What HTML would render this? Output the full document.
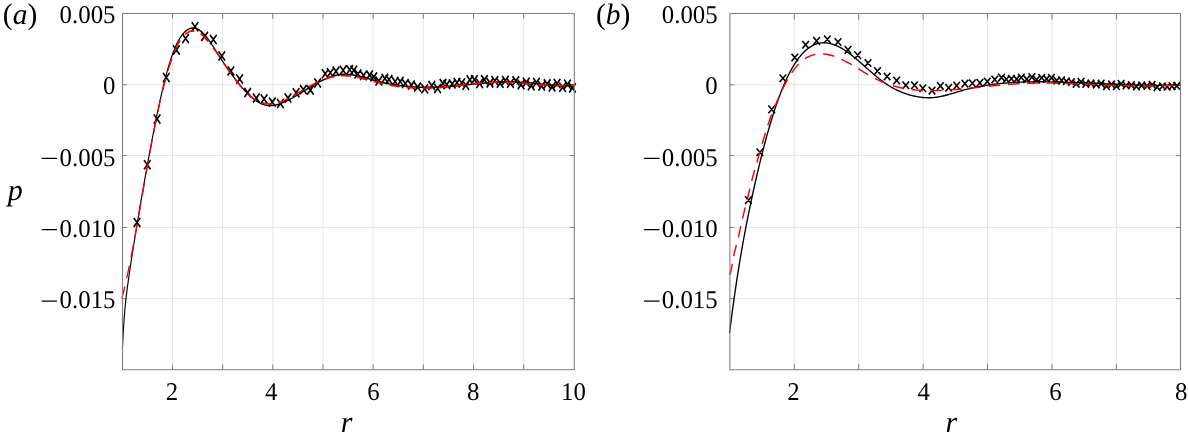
<!DOCTYPE html>
<html><head><meta charset="utf-8"><style>
html,body{margin:0;padding:0;background:#fff;width:1188px;height:441px;overflow:hidden}
svg{display:block}
text{font-family:"Liberation Serif",serif;text-rendering:geometricPrecision;font-size:25.5px;fill:#000}
</style></head><body>
<svg width="1188" height="441" viewBox="0 0 1188 441">
<rect width="1188" height="441" fill="#fff"/>
<defs><clipPath id="ca"><rect x="120.53" y="13.56" width="453.77" height="356.19"/></clipPath>
<clipPath id="cb"><rect x="727.90" y="13.56" width="452.60" height="356.19"/></clipPath></defs>
<path d="M172.50 13.56V369.75M222.67 13.56V369.75M272.84 13.56V369.75M323.01 13.56V369.75M373.18 13.56V369.75M423.35 13.56V369.75M473.52 13.56V369.75M523.69 13.56V369.75M122.53 84.75H574.30M122.53 155.52H574.30M122.53 227.43H574.30M122.53 298.66H574.30" stroke="#e6e6e6" stroke-width="1" fill="none"/>
<path d="M172.50 369.75V364.45M172.50 13.56V18.86M222.67 369.75V364.45M222.67 13.56V18.86M272.84 369.75V364.45M272.84 13.56V18.86M323.01 369.75V364.45M323.01 13.56V18.86M373.18 369.75V364.45M373.18 13.56V18.86M423.35 369.75V364.45M423.35 13.56V18.86M473.52 369.75V364.45M473.52 13.56V18.86M523.69 369.75V364.45M523.69 13.56V18.86M122.53 84.75H127.03M574.30 84.75H569.80M122.53 155.52H127.03M574.30 155.52H569.80M122.53 227.43H127.03M574.30 227.43H569.80M122.53 298.66H127.03M574.30 298.66H569.80" stroke="#808080" stroke-width="1" fill="none"/>
<g transform="matrix(1 0 0 1.3000 0 -25.4250)">
<path d="M133.70 187.10L140.30 194.17M133.70 194.17L140.30 187.10M144.00 142.71L150.60 149.79M144.00 149.79L150.60 142.71M153.80 107.56L160.40 114.63M153.80 114.63L160.40 107.56M163.00 75.63L169.60 82.71M163.00 82.71L169.60 75.63M173.10 54.48L179.70 61.56M173.10 61.56L179.70 54.48M182.30 45.63L188.90 52.71M182.30 52.71L188.90 45.63M191.70 36.63L198.30 43.71M191.70 43.71L198.30 36.63M201.30 44.02L207.90 51.10M201.30 51.10L207.90 44.02M210.00 46.40L216.60 53.48M210.00 53.48L216.60 46.40M218.50 59.10L225.10 66.17M218.50 66.17L225.10 59.10M227.60 70.56L234.20 77.63M227.60 77.63L234.20 70.56M236.30 76.79L242.90 83.87M236.30 83.87L242.90 76.79M244.40 87.25L251.00 94.33M244.40 94.33L251.00 87.25M253.00 91.48L259.60 98.56M253.00 98.56L259.60 91.48M260.80 92.17L267.40 99.25M260.80 99.25L267.40 92.17M269.00 94.56L275.60 101.63M269.00 101.63L275.60 94.56M277.10 95.63L283.70 102.71M277.10 102.71L283.70 95.63M284.70 91.48L291.30 98.56M284.70 98.56L291.30 91.48M292.80 87.33L299.40 94.40M292.80 94.40L299.40 87.33M300.00 84.94L306.60 92.02M300.00 92.02L306.60 84.94M307.10 85.33L313.70 92.40M307.10 92.40L313.70 85.33M314.30 79.87L320.90 86.94M314.30 86.94L320.90 79.87M321.90 72.79L328.50 79.87M321.90 79.87L328.50 72.79M327.00 72.02L333.60 79.10M327.00 79.10L333.60 72.02M332.70 70.87L339.30 77.94M332.70 77.94L339.30 70.87M339.80 70.10L346.40 77.17M339.80 77.17L346.40 70.10M346.40 69.71L353.00 76.79M346.40 76.79L353.00 69.71M350.50 70.10L357.10 77.17M350.50 77.17L357.10 70.10M354.60 72.87L361.20 79.94M354.60 79.94L361.20 72.87M360.20 74.02L366.80 81.10M360.20 81.10L366.80 74.02M366.30 73.63L372.90 80.71M366.30 80.71L372.90 73.63M370.40 75.17L377.00 82.25M370.40 82.25L377.00 75.17M375.50 78.33L382.10 85.40M375.50 85.40L382.10 78.33M381.60 76.40L388.20 83.48M381.60 83.48L388.20 76.40M385.70 77.17L392.30 84.25M385.70 84.25L392.30 77.17M391.80 78.71L398.40 85.79M391.80 85.79L398.40 78.71M396.90 78.71L403.50 85.79M396.90 85.79L403.50 78.71M402.00 80.33L408.60 87.40M402.00 87.40L408.60 80.33M408.10 81.48L414.70 88.56M408.10 88.56L414.70 81.48M414.30 83.02L420.90 90.10M414.30 90.10L420.90 83.02M421.40 84.25L428.00 91.33M421.40 91.33L428.00 84.25M428.50 81.87L435.10 88.94M428.50 88.94L435.10 81.87M434.30 84.10L440.90 91.17M434.30 91.17L440.90 84.10M439.70 80.33L446.30 87.40M439.70 87.40L446.30 80.33M443.50 81.10L450.10 88.17M443.50 88.17L450.10 81.10M448.90 80.56L455.50 87.63M448.90 87.63L455.50 80.56M453.70 79.56L460.30 86.63M453.70 86.63L460.30 79.56M458.40 79.79L465.00 86.87M458.40 86.87L465.00 79.79M462.50 81.63L469.10 88.71M462.50 88.71L469.10 81.63M466.60 77.48L473.20 84.56M466.60 84.56L473.20 77.48M471.10 77.29L477.70 84.37M471.10 84.37L477.70 77.29M476.30 80.27L482.90 87.34M476.30 87.34L482.90 80.27M481.12 77.31L487.72 84.39M481.12 84.39L487.72 77.31M486.66 79.78L493.26 86.85M486.66 86.85L493.26 79.78M491.57 78.07L498.17 85.15M491.57 85.15L498.17 78.07M496.87 80.10L503.47 87.18M496.87 87.18L503.47 80.10M502.08 77.87L508.68 84.95M502.08 84.95L508.68 77.87M507.10 80.08L513.70 87.16M507.10 87.16L513.70 80.08M512.53 78.20L519.13 85.28M512.53 85.28L519.13 78.20M517.74 81.12L524.34 88.20M517.74 88.20L524.34 81.12M522.98 79.34L529.58 86.42M522.98 86.42L529.58 79.34M527.94 81.98L534.54 89.06M527.94 89.06L534.54 81.98M533.13 79.52L539.73 86.60M533.13 86.60L539.73 79.52M538.40 82.22L545.00 89.30M538.40 89.30L545.00 82.22M543.84 80.52L550.44 87.60M543.84 87.60L550.44 80.52M548.74 82.89L555.34 89.97M548.74 89.97L555.34 82.89M553.77 80.21L560.37 87.28M553.77 87.28L560.37 80.21M559.28 83.19L565.88 90.26M559.28 90.26L565.88 83.19M564.20 80.87L570.80 87.95M564.20 87.95L570.80 80.87M569.16 83.62L575.76 90.70M569.16 90.70L575.76 83.62" stroke="#000" stroke-width="1.50" fill="none"/>
</g>
<g clip-path="url(#ca)"><g transform="matrix(1 0 0 1.3000 0 -25.4250)">
<path d="M122.40 287.87 L122.46 286.91 L122.52 285.96 L122.58 285.03 L122.64 284.11 L122.70 283.21 L122.76 282.31 L122.82 281.43 L122.88 280.56 L122.94 279.71 L123.00 278.86 L123.06 278.03 L123.12 277.21 L123.18 276.40 L123.24 275.61 L123.30 274.82 L123.36 274.05 L123.44 273.03 L123.52 272.04 L123.60 271.06 L123.68 270.11 L123.76 269.17 L123.84 268.25 L123.92 267.35 L124.00 266.46 L124.08 265.60 L124.16 264.75 L124.24 263.91 L124.32 263.10 L124.40 262.30 L124.48 261.51 L124.56 260.74 L124.66 259.80 L124.76 258.88 L124.86 257.98 L124.96 257.10 L125.06 256.25 L125.16 255.41 L125.26 254.60 L125.36 253.80 L125.46 253.02 L125.58 252.11 L125.70 251.22 L125.82 250.35 L125.94 249.50 L126.06 248.68 L126.18 247.87 L126.30 247.09 L126.42 246.32 L126.56 245.44 L126.70 244.58 L126.84 243.74 L126.98 242.91 L127.12 242.10 L127.26 241.30 L127.40 240.52 L127.54 239.74 L127.68 238.97 L127.82 238.20 L127.96 237.44 L128.12 236.57 L128.28 235.70 L128.44 234.83 L128.60 233.97 L128.76 233.11 L128.92 232.25 L129.08 231.39 L129.24 230.54 L129.40 229.69 L129.56 228.84 L129.72 227.99 L129.88 227.15 L130.04 226.31 L130.20 225.48 L130.36 224.65 L130.52 223.82 L130.68 223.00 L130.84 222.19 L131.00 221.37 L131.16 220.57 L131.32 219.76 L131.48 218.97 L131.64 218.18 L131.80 217.39 L131.96 216.60 L132.12 215.82 L132.28 215.04 L132.44 214.27 L132.60 213.50 L132.76 212.73 L132.92 211.96 L133.08 211.19 L133.24 210.43 L133.40 209.66 L133.56 208.90 L133.72 208.14 L133.88 207.37 L134.04 206.61 L134.20 205.84 L134.36 205.08 L134.52 204.31 L134.68 203.54 L134.84 202.77 L135.00 201.99 L135.16 201.22 L135.32 200.44 L135.48 199.66 L135.64 198.89 L135.80 198.11 L135.96 197.33 L136.12 196.56 L136.28 195.78 L136.44 195.01 L136.60 194.24 L136.76 193.47 L136.92 192.71 L137.08 191.95 L137.26 191.10 L137.44 190.25 L137.62 189.41 L137.80 188.57 L137.98 187.74 L138.16 186.91 L138.34 186.08 L138.52 185.26 L138.70 184.44 L138.88 183.62 L139.06 182.81 L139.24 181.99 L139.42 181.18 L139.60 180.38 L139.78 179.57 L139.96 178.77 L140.14 177.97 L140.32 177.17 L140.50 176.37 L140.68 175.57 L140.86 174.78 L141.04 173.98 L141.22 173.19 L141.40 172.39 L141.58 171.60 L141.76 170.81 L141.94 170.01 L142.12 169.22 L142.30 168.43 L142.48 167.64 L142.66 166.85 L142.84 166.06 L143.02 165.27 L143.20 164.48 L143.38 163.70 L143.56 162.91 L143.74 162.13 L143.92 161.34 L144.10 160.56 L144.28 159.77 L144.46 158.99 L144.64 158.21 L144.82 157.43 L145.00 156.65 L145.18 155.87 L145.36 155.09 L145.54 154.32 L145.72 153.54 L145.90 152.77 L146.08 151.99 L146.26 151.22 L146.44 150.45 L146.62 149.68 L146.80 148.91 L146.98 148.14 L147.16 147.37 L147.34 146.61 L147.52 145.84 L147.70 145.08 L147.88 144.32 L148.06 143.56 L148.24 142.80 L148.42 142.04 L148.60 141.28 L148.80 140.44 L149.00 139.61 L149.20 138.77 L149.40 137.94 L149.60 137.11 L149.80 136.28 L150.00 135.45 L150.20 134.62 L150.40 133.80 L150.60 132.97 L150.80 132.15 L151.00 131.33 L151.20 130.52 L151.40 129.70 L151.60 128.89 L151.80 128.08 L152.00 127.27 L152.20 126.47 L152.40 125.66 L152.60 124.86 L152.80 124.06 L153.00 123.27 L153.20 122.47 L153.40 121.68 L153.60 120.89 L153.80 120.10 L154.00 119.32 L154.20 118.54 L154.40 117.76 L154.60 116.98 L154.80 116.20 L155.00 115.43 L155.20 114.66 L155.40 113.90 L155.60 113.13 L155.80 112.37 L156.00 111.61 L156.20 110.86 L156.42 110.03 L156.64 109.20 L156.86 108.38 L157.08 107.56 L157.30 106.75 L157.52 105.94 L157.74 105.13 L157.96 104.33 L158.18 103.53 L158.40 102.73 L158.62 101.94 L158.84 101.15 L159.06 100.37 L159.28 99.59 L159.50 98.81 L159.72 98.04 L159.94 97.27 L160.16 96.51 L160.38 95.75 L160.60 94.99 L160.82 94.24 L161.06 93.42 L161.30 92.61 L161.54 91.81 L161.78 91.01 L162.02 90.21 L162.26 89.42 L162.50 88.64 L162.74 87.86 L162.98 87.08 L163.22 86.32 L163.46 85.55 L163.70 84.80 L163.94 84.04 L164.20 83.24 L164.46 82.44 L164.72 81.64 L164.98 80.86 L165.24 80.07 L165.50 79.30 L165.76 78.54 L166.02 77.78 L166.28 77.02 L166.54 76.28 L166.82 75.49 L167.10 74.70 L167.38 73.92 L167.66 73.16 L167.94 72.40 L168.22 71.65 L168.50 70.91 L168.80 70.12 L169.10 69.35 L169.40 68.58 L169.70 67.83 L170.00 67.09 L170.32 66.31 L170.64 65.54 L170.96 64.79 L171.28 64.05 L171.62 63.27 L171.96 62.52 L172.30 61.77 L172.64 61.04 L173.00 60.29 L173.36 59.55 L173.72 58.83 L174.10 58.08 L174.48 57.36 L174.88 56.61 L175.28 55.89 L175.70 55.15 L176.12 54.43 L176.56 53.70 L177.00 52.99 L177.46 52.28 L177.92 51.59 L178.40 50.90 L178.90 50.21 L179.42 49.52 L179.94 48.86 L180.48 48.20 L181.04 47.56 L181.62 46.93 L182.22 46.31 L182.86 45.70 L183.52 45.11 L184.22 44.53 L184.94 43.98 L185.70 43.47 L186.50 42.98 L187.34 42.53 L188.22 42.13 L189.12 41.79 L190.06 41.52 L191.04 41.31 L192.04 41.18 L193.04 41.13 L194.04 41.17 L195.04 41.29 L196.02 41.49 L196.98 41.75 L197.90 42.07 L198.78 42.44 L199.64 42.86 L200.46 43.31 L201.26 43.79 L202.02 44.30 L202.76 44.83 L203.48 45.38 L204.18 45.95 L204.86 46.53 L205.52 47.12 L206.16 47.72 L206.80 48.33 L207.42 48.95 L208.04 49.58 L208.64 50.21 L209.24 50.85 L209.82 51.49 L210.40 52.13 L210.98 52.79 L211.54 53.43 L212.10 54.08 L212.66 54.73 L213.22 55.40 L213.78 56.06 L214.32 56.71 L214.86 57.37 L215.40 58.02 L215.94 58.68 L216.48 59.34 L217.02 59.99 L217.56 60.65 L218.10 61.31 L218.64 61.97 L219.18 62.62 L219.72 63.27 L220.28 63.94 L220.84 64.60 L221.40 65.27 L221.96 65.93 L222.52 66.58 L223.08 67.24 L223.64 67.88 L224.20 68.53 L224.76 69.17 L225.34 69.83 L225.92 70.49 L226.50 71.14 L227.08 71.78 L227.66 72.43 L228.24 73.07 L228.82 73.70 L229.40 74.33 L230.00 74.98 L230.60 75.62 L231.20 76.26 L231.80 76.89 L232.40 77.52 L233.00 78.14 L233.60 78.76 L234.22 79.39 L234.84 80.02 L235.46 80.64 L236.08 81.26 L236.70 81.87 L237.32 82.47 L237.96 83.09 L238.60 83.71 L239.24 84.31 L239.88 84.91 L240.52 85.50 L241.18 86.11 L241.84 86.70 L242.50 87.29 L243.16 87.87 L243.84 88.45 L244.52 89.03 L245.20 89.59 L245.90 90.17 L246.60 90.73 L247.32 91.29 L248.04 91.84 L248.76 92.38 L249.50 92.92 L250.24 93.45 L251.00 93.97 L251.76 94.48 L252.54 94.98 L253.32 95.47 L254.12 95.95 L254.94 96.42 L255.76 96.87 L256.60 97.30 L257.46 97.73 L258.32 98.12 L259.20 98.50 L260.10 98.86 L261.02 99.20 L261.94 99.51 L262.88 99.78 L263.84 100.03 L264.82 100.25 L265.80 100.42 L266.80 100.56 L267.80 100.67 L268.80 100.73 L269.80 100.76 L270.80 100.76 L271.80 100.72 L272.80 100.66 L273.80 100.56 L274.80 100.43 L275.80 100.28 L276.78 100.10 L277.76 99.90 L278.72 99.68 L279.68 99.45 L280.64 99.19 L281.58 98.92 L282.52 98.63 L283.46 98.33 L284.38 98.02 L285.30 97.70 L286.22 97.36 L287.12 97.02 L288.02 96.68 L288.92 96.32 L289.82 95.96 L290.72 95.59 L291.60 95.22 L292.48 94.85 L293.36 94.47 L294.24 94.08 L295.12 93.69 L296.00 93.29 L296.88 92.89 L297.74 92.50 L298.60 92.10 L299.46 91.70 L300.32 91.30 L301.18 90.89 L302.04 90.48 L302.90 90.08 L303.76 89.67 L304.62 89.26 L305.48 88.85 L306.34 88.44 L307.20 88.03 L308.06 87.62 L308.92 87.22 L309.78 86.81 L310.64 86.41 L311.50 86.01 L312.36 85.62 L313.24 85.22 L314.12 84.82 L315.00 84.43 L315.88 84.04 L316.76 83.66 L317.64 83.28 L318.52 82.91 L319.42 82.54 L320.32 82.17 L321.22 81.81 L322.12 81.47 L323.02 81.13 L323.94 80.79 L324.86 80.46 L325.78 80.14 L326.70 79.83 L327.64 79.53 L328.58 79.24 L329.52 78.96 L330.46 78.70 L331.42 78.45 L332.38 78.21 L333.34 77.98 L334.32 77.77 L335.30 77.58 L336.28 77.40 L337.26 77.25 L338.26 77.11 L339.26 76.99 L340.26 76.89 L341.26 76.81 L342.26 76.75 L343.26 76.71 L344.26 76.69 L345.26 76.69 L346.26 76.71 L347.26 76.74 L348.26 76.78 L349.26 76.85 L350.26 76.92 L351.26 77.02 L352.26 77.12 L353.26 77.24 L354.26 77.37 L355.26 77.50 L356.26 77.65 L357.24 77.81 L358.22 77.98 L359.20 78.15 L360.18 78.33 L361.16 78.52 L362.14 78.71 L363.12 78.91 L364.10 79.11 L365.08 79.32 L366.06 79.53 L367.04 79.74 L368.02 79.96 L369.00 80.17 L369.98 80.39 L370.96 80.61 L371.94 80.83 L372.92 81.04 L373.90 81.26 L374.88 81.47 L375.86 81.68 L376.84 81.89 L377.82 82.09 L378.80 82.28 L379.78 82.47 L380.76 82.66 L381.74 82.84 L382.72 83.02 L383.70 83.19 L384.68 83.36 L385.66 83.52 L386.64 83.68 L387.62 83.83 L388.62 83.98 L389.62 84.13 L390.62 84.27 L391.62 84.41 L392.62 84.55 L393.62 84.67 L394.62 84.80 L395.62 84.92 L396.62 85.03 L397.62 85.15 L398.62 85.25 L399.62 85.36 L400.62 85.45 L401.62 85.55 L402.62 85.64 L403.62 85.72 L404.62 85.81 L405.62 85.88 L406.62 85.96 L407.62 86.03 L408.62 86.09 L409.62 86.16 L410.62 86.22 L411.62 86.27 L412.62 86.32 L413.62 86.37 L414.62 86.41 L415.62 86.45 L416.62 86.49 L417.62 86.52 L418.62 86.55 L419.62 86.58 L420.62 86.60 L421.62 86.62 L422.62 86.64 L423.62 86.65 L424.62 86.66 L425.62 86.66 L426.62 86.67 L427.62 86.67 L428.62 86.67 L429.62 86.66 L430.62 86.65 L431.62 86.64 L432.62 86.62 L433.62 86.61 L434.62 86.59 L435.62 86.56 L436.62 86.54 L437.62 86.51 L438.62 86.48 L439.62 86.45 L440.62 86.41 L441.62 86.37 L442.62 86.33 L443.62 86.29 L444.62 86.24 L445.62 86.19 L446.62 86.14 L447.62 86.09 L448.62 86.03 L449.62 85.98 L450.62 85.92 L451.62 85.86 L452.62 85.80 L453.62 85.73 L454.62 85.67 L455.62 85.60 L456.62 85.53 L457.62 85.46 L458.62 85.39 L459.62 85.32 L460.62 85.25 L461.62 85.18 L462.62 85.10 L463.62 85.03 L464.62 84.95 L465.62 84.88 L466.62 84.80 L467.62 84.73 L468.62 84.65 L469.62 84.57 L470.62 84.50 L471.62 84.42 L472.62 84.34 L473.62 84.27 L474.62 84.19 L475.62 84.12 L476.62 84.04 L477.62 83.97 L478.62 83.90 L479.62 83.82 L480.62 83.75 L481.62 83.68 L482.62 83.61 L483.62 83.54 L484.62 83.48 L485.62 83.41 L486.62 83.35 L487.62 83.29 L488.62 83.23 L489.62 83.17 L490.62 83.11 L491.62 83.06 L492.62 83.00 L493.62 82.95 L494.62 82.90 L495.62 82.86 L496.62 82.81 L497.62 82.77 L498.62 82.73 L499.62 82.70 L500.62 82.67 L501.62 82.64 L502.62 82.61 L503.62 82.59 L504.62 82.56 L505.62 82.55 L506.62 82.53 L507.62 82.52 L508.62 82.52 L509.62 82.51 L510.62 82.51 L511.62 82.52 L512.62 82.53 L513.62 82.54 L514.62 82.55 L515.62 82.58 L516.62 82.60 L517.62 82.63 L518.62 82.66 L519.62 82.70 L520.62 82.75 L521.62 82.79 L522.62 82.85 L523.62 82.90 L524.62 82.96 L525.62 83.02 L526.62 83.09 L527.62 83.16 L528.62 83.23 L529.62 83.31 L530.62 83.39 L531.62 83.47 L532.62 83.55 L533.62 83.63 L534.62 83.71 L535.62 83.80 L536.62 83.88 L537.62 83.97 L538.62 84.06 L539.62 84.14 L540.62 84.23 L541.62 84.31 L542.62 84.40 L543.62 84.48 L544.62 84.56 L545.62 84.64 L546.62 84.72 L547.62 84.80 L548.62 84.87 L549.62 84.94 L550.62 85.01 L551.62 85.08 L552.62 85.14 L553.62 85.20 L554.62 85.25 L555.62 85.30 L556.62 85.35 L557.62 85.39 L558.62 85.43 L559.62 85.46 L560.62 85.49 L561.62 85.51 L562.62 85.52 L563.62 85.53 L564.62 85.53 L565.62 85.52 L566.62 85.51 L567.62 85.49 L568.62 85.46 L569.62 85.43 L570.62 85.39 L571.62 85.34 L572.62 85.28 L573.62 85.21 L574.40 85.15" stroke="#000" stroke-width="1.15" fill="none" stroke-linejoin="round"/>
<path d="M121.80 249.37 L122.06 248.62 L122.32 247.86 L122.58 247.09 L122.84 246.31 L123.10 245.52 L123.36 244.72 L123.62 243.91 L123.86 243.16 L124.10 242.40 L124.34 241.63 L124.58 240.85 L124.82 240.07 L125.06 239.27 L125.30 238.48 L125.54 237.67 L125.78 236.86 L126.00 236.11 L126.22 235.35 L126.44 234.59 L126.66 233.82 L126.88 233.05 L127.10 232.27 L127.32 231.48 L127.54 230.69 L127.76 229.90 L127.98 229.10 L128.20 228.30 L128.42 227.49 L128.64 226.67 L128.86 225.85 L129.08 225.03 L129.30 224.20 L129.50 223.44 L129.70 222.68 L129.90 221.92 L130.10 221.15 L130.30 220.38 L130.50 219.60 L130.70 218.82 L130.90 218.04 L131.10 217.26 L131.30 216.47 L131.50 215.68 L131.70 214.88 L131.90 214.09 L132.10 213.28 L132.30 212.48 L132.50 211.67 L132.70 210.86 L132.90 210.05 L133.10 209.24 L133.30 208.42 L133.50 207.60 L133.70 206.78 L133.90 205.95 L134.10 205.12 L134.30 204.29 L134.50 203.46 L134.70 202.62 L134.90 201.79 L135.10 200.95 L135.28 200.19 L135.46 199.43 L135.64 198.67 L135.82 197.91 L136.00 197.15 L136.18 196.38 L136.36 195.61 L136.54 194.85 L136.72 194.08 L136.90 193.31 L137.08 192.53 L137.26 191.76 L137.44 190.99 L137.62 190.21 L137.80 189.44 L137.98 188.66 L138.16 187.88 L138.34 187.10 L138.52 186.32 L138.70 185.54 L138.88 184.75 L139.06 183.97 L139.24 183.19 L139.42 182.40 L139.60 181.62 L139.78 180.83 L139.96 180.04 L140.14 179.26 L140.32 178.47 L140.50 177.68 L140.68 176.89 L140.86 176.10 L141.04 175.31 L141.22 174.52 L141.40 173.73 L141.58 172.94 L141.76 172.15 L141.94 171.36 L142.12 170.57 L142.30 169.78 L142.48 168.99 L142.66 168.20 L142.84 167.41 L143.02 166.62 L143.20 165.82 L143.38 165.03 L143.56 164.24 L143.74 163.45 L143.92 162.66 L144.10 161.87 L144.28 161.09 L144.46 160.30 L144.64 159.51 L144.82 158.72 L145.00 157.93 L145.18 157.15 L145.36 156.36 L145.54 155.58 L145.72 154.79 L145.90 154.01 L146.08 153.23 L146.26 152.44 L146.44 151.66 L146.62 150.88 L146.80 150.10 L146.98 149.32 L147.16 148.55 L147.34 147.77 L147.52 147.00 L147.70 146.22 L147.88 145.45 L148.06 144.68 L148.24 143.91 L148.42 143.14 L148.60 142.37 L148.78 141.61 L148.96 140.84 L149.14 140.08 L149.32 139.32 L149.50 138.56 L149.68 137.80 L149.88 136.96 L150.08 136.12 L150.28 135.29 L150.48 134.45 L150.68 133.62 L150.88 132.79 L151.08 131.97 L151.28 131.14 L151.48 130.32 L151.68 129.50 L151.88 128.69 L152.08 127.87 L152.28 127.06 L152.48 126.25 L152.68 125.45 L152.88 124.65 L153.08 123.85 L153.28 123.05 L153.48 122.26 L153.68 121.47 L153.88 120.68 L154.08 119.90 L154.28 119.11 L154.48 118.34 L154.68 117.56 L154.88 116.79 L155.08 116.02 L155.28 115.25 L155.48 114.49 L155.68 113.73 L155.88 112.98 L156.10 112.15 L156.32 111.32 L156.54 110.50 L156.76 109.69 L156.98 108.87 L157.20 108.07 L157.42 107.26 L157.64 106.46 L157.86 105.67 L158.08 104.87 L158.30 104.09 L158.52 103.30 L158.74 102.52 L158.96 101.75 L159.18 100.98 L159.40 100.21 L159.62 99.45 L159.84 98.69 L160.06 97.94 L160.30 97.12 L160.54 96.31 L160.78 95.50 L161.02 94.70 L161.26 93.91 L161.50 93.12 L161.74 92.33 L161.98 91.55 L162.22 90.78 L162.46 90.01 L162.70 89.25 L162.94 88.49 L163.18 87.74 L163.44 86.93 L163.70 86.13 L163.96 85.34 L164.22 84.55 L164.48 83.77 L164.74 82.99 L165.00 82.23 L165.26 81.47 L165.52 80.72 L165.78 79.97 L166.06 79.17 L166.34 78.39 L166.62 77.61 L166.90 76.84 L167.18 76.08 L167.46 75.33 L167.74 74.58 L168.04 73.79 L168.34 73.02 L168.64 72.25 L168.94 71.49 L169.24 70.74 L169.54 70.00 L169.86 69.23 L170.18 68.47 L170.50 67.71 L170.82 66.97 L171.16 66.20 L171.50 65.44 L171.84 64.70 L172.18 63.97 L172.54 63.21 L172.90 62.47 L173.26 61.74 L173.64 60.99 L174.02 60.25 L174.40 59.54 L174.80 58.80 L175.20 58.09 L175.62 57.36 L176.04 56.64 L176.48 55.92 L176.92 55.22 L177.38 54.51 L177.84 53.83 L178.32 53.14 L178.82 52.44 L179.34 51.76 L179.86 51.10 L180.40 50.44 L180.96 49.80 L181.54 49.16 L182.14 48.54 L182.78 47.93 L183.44 47.33 L184.12 46.77 L184.84 46.22 L185.60 45.69 L186.40 45.20 L187.24 44.75 L188.12 44.35 L189.02 44.02 L189.96 43.75 L190.94 43.54 L191.94 43.42 L192.94 43.39 L193.94 43.44 L194.94 43.56 L195.92 43.76 L196.88 44.03 L197.80 44.34 L198.70 44.70 L199.56 45.10 L200.40 45.53 L201.22 45.99 L202.02 46.48 L202.80 46.98 L203.56 47.51 L204.30 48.05 L205.02 48.61 L205.72 49.17 L206.40 49.73 L207.08 50.31 L207.74 50.90 L208.40 51.50 L209.04 52.10 L209.68 52.71 L210.30 53.31 L210.92 53.93 L211.54 54.56 L212.14 55.18 L212.74 55.80 L213.34 56.44 L213.94 57.08 L214.52 57.71 L215.10 58.34 L215.68 58.98 L216.26 59.62 L216.84 60.27 L217.42 60.92 L218.00 61.57 L218.58 62.23 L219.16 62.89 L219.74 63.55 L220.30 64.18 L220.86 64.82 L221.42 65.46 L221.98 66.10 L222.54 66.74 L223.10 67.38 L223.66 68.01 L224.22 68.65 L224.80 69.31 L225.38 69.97 L225.96 70.63 L226.54 71.28 L227.12 71.93 L227.70 72.58 L228.28 73.23 L228.86 73.88 L229.44 74.52 L230.02 75.16 L230.60 75.79 L231.18 76.42 L231.76 77.05 L232.36 77.69 L232.96 78.33 L233.56 78.97 L234.16 79.60 L234.76 80.22 L235.36 80.84 L235.98 81.47 L236.60 82.09 L237.22 82.71 L237.84 83.32 L238.48 83.93 L239.12 84.55 L239.76 85.15 L240.40 85.74 L241.06 86.34 L241.72 86.93 L242.40 87.52 L243.08 88.10 L243.76 88.67 L244.46 89.25 L245.16 89.80 L245.88 90.36 L246.60 90.91 L247.34 91.44 L248.08 91.97 L248.84 92.49 L249.62 93.00 L250.40 93.49 L251.20 93.98 L252.00 94.44 L252.82 94.90 L253.66 95.34 L254.50 95.76 L255.36 96.17 L256.24 96.57 L257.12 96.94 L258.02 97.29 L258.94 97.63 L259.86 97.94 L260.80 98.22 L261.76 98.49 L262.72 98.73 L263.70 98.94 L264.68 99.12 L265.68 99.27 L266.68 99.40 L267.68 99.49 L268.68 99.55 L269.68 99.58 L270.68 99.59 L271.68 99.56 L272.68 99.49 L273.68 99.40 L274.68 99.28 L275.68 99.14 L276.66 98.97 L277.64 98.78 L278.62 98.56 L279.58 98.33 L280.54 98.08 L281.48 97.81 L282.42 97.53 L283.36 97.23 L284.28 96.92 L285.20 96.60 L286.12 96.26 L287.02 95.92 L287.92 95.57 L288.82 95.21 L289.72 94.84 L290.60 94.47 L291.48 94.09 L292.36 93.71 L293.24 93.32 L294.12 92.93 L295.00 92.53 L295.88 92.13 L296.74 91.73 L297.60 91.34 L298.46 90.94 L299.32 90.54 L300.18 90.14 L301.04 89.75 L301.90 89.35 L302.78 88.95 L303.66 88.55 L304.54 88.16 L305.42 87.76 L306.30 87.37 L307.18 86.99 L308.06 86.61 L308.94 86.23 L309.82 85.86 L310.70 85.49 L311.60 85.12 L312.50 84.75 L313.40 84.39 L314.30 84.04 L315.20 83.69 L316.10 83.35 L317.02 83.01 L317.94 82.68 L318.86 82.35 L319.78 82.04 L320.70 81.73 L321.64 81.42 L322.58 81.13 L323.52 80.84 L324.46 80.57 L325.40 80.30 L326.36 80.04 L327.32 79.80 L328.28 79.56 L329.24 79.34 L330.22 79.12 L331.20 78.92 L332.18 78.74 L333.16 78.56 L334.14 78.41 L335.14 78.26 L336.14 78.14 L337.14 78.02 L338.14 77.93 L339.14 77.85 L340.14 77.79 L341.14 77.75 L342.14 77.73 L343.14 77.72 L344.14 77.73 L345.14 77.75 L346.14 77.79 L347.14 77.84 L348.14 77.90 L349.14 77.98 L350.14 78.07 L351.14 78.17 L352.14 78.28 L353.14 78.41 L354.14 78.54 L355.14 78.68 L356.14 78.83 L357.12 78.98 L358.10 79.14 L359.08 79.31 L360.06 79.48 L361.04 79.66 L362.02 79.84 L363.00 80.03 L363.98 80.22 L364.96 80.42 L365.94 80.61 L366.92 80.81 L367.90 81.01 L368.88 81.21 L369.86 81.41 L370.84 81.61 L371.82 81.81 L372.80 82.01 L373.78 82.21 L374.76 82.40 L375.74 82.59 L376.72 82.78 L377.70 82.96 L378.68 83.14 L379.66 83.32 L380.64 83.49 L381.62 83.66 L382.60 83.82 L383.58 83.99 L384.56 84.15 L385.54 84.30 L386.54 84.46 L387.54 84.61 L388.54 84.75 L389.54 84.90 L390.54 85.04 L391.54 85.17 L392.54 85.31 L393.54 85.43 L394.54 85.56 L395.54 85.68 L396.54 85.79 L397.54 85.91 L398.54 86.02 L399.54 86.12 L400.54 86.22 L401.54 86.32 L402.54 86.41 L403.54 86.50 L404.54 86.58 L405.54 86.66 L406.54 86.74 L407.54 86.81 L408.54 86.88 L409.54 86.94 L410.54 87.00 L411.54 87.05 L412.54 87.10 L413.54 87.15 L414.54 87.19 L415.54 87.23 L416.54 87.26 L417.54 87.29 L418.54 87.32 L419.54 87.34 L420.54 87.35 L421.54 87.36 L422.54 87.37 L423.54 87.37 L424.54 87.37 L425.54 87.36 L426.54 87.35 L427.54 87.34 L428.54 87.32 L429.54 87.29 L430.54 87.26 L431.54 87.23 L432.54 87.20 L433.54 87.16 L434.54 87.11 L435.54 87.07 L436.54 87.02 L437.54 86.97 L438.54 86.91 L439.54 86.85 L440.54 86.79 L441.54 86.73 L442.54 86.66 L443.54 86.59 L444.54 86.52 L445.54 86.45 L446.54 86.37 L447.54 86.30 L448.54 86.22 L449.54 86.14 L450.54 86.05 L451.54 85.97 L452.54 85.89 L453.54 85.80 L454.54 85.71 L455.54 85.62 L456.54 85.54 L457.54 85.45 L458.54 85.36 L459.54 85.27 L460.54 85.18 L461.54 85.09 L462.54 84.99 L463.54 84.90 L464.54 84.81 L465.54 84.72 L466.54 84.63 L467.54 84.55 L468.54 84.46 L469.54 84.37 L470.54 84.28 L471.54 84.20 L472.54 84.11 L473.54 84.03 L474.54 83.95 L475.54 83.87 L476.54 83.79 L477.54 83.71 L478.54 83.64 L479.54 83.57 L480.54 83.50 L481.54 83.43 L482.54 83.36 L483.54 83.30 L484.54 83.24 L485.54 83.18 L486.54 83.13 L487.54 83.07 L488.54 83.03 L489.54 82.98 L490.54 82.94 L491.54 82.90 L492.54 82.87 L493.54 82.83 L494.54 82.81 L495.54 82.78 L496.54 82.77 L497.54 82.75 L498.54 82.74 L499.54 82.74 L500.54 82.73 L501.54 82.74 L502.54 82.75 L503.54 82.76 L504.54 82.77 L505.54 82.79 L506.54 82.82 L507.54 82.84 L508.54 82.87 L509.54 82.90 L510.54 82.94 L511.54 82.98 L512.54 83.02 L513.54 83.07 L514.54 83.11 L515.54 83.16 L516.54 83.21 L517.54 83.27 L518.54 83.32 L519.54 83.38 L520.54 83.44 L521.54 83.50 L522.54 83.56 L523.54 83.62 L524.54 83.69 L525.54 83.75 L526.54 83.82 L527.54 83.89 L528.54 83.95 L529.54 84.02 L530.54 84.09 L531.54 84.16 L532.54 84.22 L533.54 84.29 L534.54 84.36 L535.54 84.42 L536.54 84.49 L537.54 84.55 L538.54 84.62 L539.54 84.68 L540.54 84.74 L541.54 84.80 L542.54 84.86 L543.54 84.92 L544.54 84.97 L545.54 85.03 L546.54 85.08 L547.54 85.13 L548.54 85.17 L549.54 85.22 L550.54 85.26 L551.54 85.30 L552.54 85.33 L553.54 85.37 L554.54 85.40 L555.54 85.42 L556.54 85.44 L557.54 85.46 L558.54 85.48 L559.54 85.49 L560.54 85.50 L561.54 85.50 L562.54 85.50 L563.54 85.49 L564.54 85.48 L565.54 85.46 L566.54 85.44 L567.54 85.42 L568.54 85.39 L569.54 85.35 L570.54 85.31 L571.54 85.26 L572.54 85.21 L573.54 85.15 L574.40 85.09" stroke="#ff0000" stroke-width="1.35" fill="none" stroke-dasharray="10 6.5"/>
</g></g>
<path d="M122.53 13.56H574.30V369.75H122.53Z" stroke="#808080" stroke-width="1.1" fill="none"/>
<path d="M794.27 13.56V369.75M858.69 13.56V369.75M923.11 13.56V369.75M987.53 13.56V369.75M1051.95 13.56V369.75M1116.37 13.56V369.75M729.90 84.75H1180.50M729.90 155.52H1180.50M729.90 227.43H1180.50M729.90 298.66H1180.50" stroke="#e6e6e6" stroke-width="1" fill="none"/>
<path d="M794.27 369.75V363.75M794.27 13.56V19.56M858.69 369.75V363.75M858.69 13.56V19.56M923.11 369.75V363.75M923.11 13.56V19.56M987.53 369.75V363.75M987.53 13.56V19.56M1051.95 369.75V363.75M1051.95 13.56V19.56M1116.37 369.75V363.75M1116.37 13.56V19.56M729.90 84.75H734.40M1180.50 84.75H1176.00M729.90 155.52H734.40M1180.50 155.52H1176.00M729.90 227.43H734.40M1180.50 227.43H1176.00M729.90 298.66H734.40M1180.50 298.66H1176.00" stroke="#808080" stroke-width="1" fill="none"/>
<g transform="matrix(1 0 0 1.0000 0 0.0000)">
<path d="M745.10 196.30L751.70 203.90M745.10 203.90L751.70 196.30M756.60 148.50L763.20 156.10M756.60 156.10L763.20 148.50M768.40 105.60L775.00 113.20M768.40 113.20L775.00 105.60M779.60 74.40L786.20 82.00M779.60 82.00L786.20 74.40M791.50 53.70L798.10 61.30M791.50 61.30L798.10 53.70M802.30 41.00L808.90 48.60M802.30 48.60L808.90 41.00M813.30 37.10L819.90 44.70M813.30 44.70L819.90 37.10M824.10 35.50L830.70 43.10M824.10 43.10L830.70 35.50M834.70 38.20L841.30 45.80M834.70 45.80L841.30 38.20M844.70 46.10L851.30 53.70M844.70 53.70L851.30 46.10M854.40 51.30L861.00 58.90M854.40 58.90L861.00 51.30M864.70 59.20L871.30 66.80M864.70 66.80L871.30 59.20M874.20 67.20L880.80 74.80M874.20 74.80L880.80 67.20M883.80 72.70L890.40 80.30M883.80 80.30L890.40 72.70M893.30 76.70L899.90 84.30M893.30 84.30L899.90 76.70M902.50 81.40L909.10 89.00M902.50 89.00L909.10 81.40M911.20 81.40L917.80 89.00M911.20 89.00L917.80 81.40M919.50 84.50L926.10 92.10M919.50 92.10L926.10 84.50M928.70 86.80L935.30 94.40M928.70 94.40L935.30 86.80M937.10 82.20L943.70 89.80M937.10 89.80L943.70 82.20M945.30 83.90L951.90 91.50M945.30 91.50L951.90 83.90M953.40 81.80L960.00 89.40M953.40 89.40L960.00 81.80M961.60 79.80L968.20 87.40M961.60 87.40L968.20 79.80M969.10 79.50L975.70 87.10M969.10 87.10L975.70 79.50M976.60 79.10L983.20 86.70M976.60 86.70L983.20 79.10M984.00 77.70L990.60 85.30M984.00 85.30L990.60 77.70M991.50 75.70L998.10 83.30M991.50 83.30L998.10 75.70M998.20 73.76L1004.80 81.36M998.20 81.36L1004.80 73.76M1003.04 75.48L1009.64 83.08M1003.04 83.08L1009.64 75.48M1008.07 75.00L1014.67 82.60M1008.07 82.60L1014.67 75.00M1013.26 75.32L1019.86 82.92M1013.26 82.92L1019.86 75.32M1017.97 73.66L1024.57 81.26M1017.97 81.26L1024.57 73.66M1023.37 75.36L1029.97 82.96M1023.37 82.96L1029.97 75.36M1028.55 73.33L1035.15 80.93M1028.55 80.93L1035.15 73.33M1033.27 75.92L1039.87 83.52M1033.27 83.52L1039.87 75.92M1038.39 73.96L1044.99 81.56M1038.39 81.56L1044.99 73.96M1043.31 75.11L1049.91 82.71M1043.31 82.71L1049.91 75.11M1048.13 74.04L1054.73 81.64M1048.13 81.64L1054.73 74.04M1053.42 76.79L1060.02 84.39M1053.42 84.39L1060.02 76.79M1058.20 76.59L1064.80 84.19M1058.20 84.19L1064.80 76.59M1063.04 77.49L1069.64 85.09M1063.04 85.09L1069.64 77.49M1068.16 78.24L1074.76 85.84M1068.16 85.84L1074.76 78.24M1072.88 80.01L1079.48 87.61M1072.88 87.61L1079.48 80.01M1077.71 78.05L1084.31 85.65M1077.71 85.65L1084.31 78.05M1082.43 80.14L1089.03 87.74M1082.43 87.74L1089.03 80.14M1087.63 79.64L1094.23 87.24M1087.63 87.24L1094.23 79.64M1092.93 80.76L1099.53 88.36M1092.93 88.36L1099.53 80.76M1097.85 79.77L1104.45 87.37M1097.85 87.37L1104.45 79.77M1103.24 82.43L1109.84 90.03M1103.24 90.03L1109.84 82.43M1108.18 80.52L1114.78 88.12M1108.18 88.12L1114.78 80.52M1113.10 82.39L1119.70 89.99M1113.10 89.99L1119.70 82.39M1117.82 80.07L1124.42 87.67M1117.82 87.67L1124.42 80.07M1122.81 81.73L1129.41 89.33M1122.81 89.33L1129.41 81.73M1128.10 81.32L1134.70 88.92M1128.10 88.92L1134.70 81.32M1133.18 82.62L1139.78 90.22M1133.18 90.22L1139.78 82.62M1138.36 81.64L1144.96 89.24M1138.36 89.24L1144.96 81.64M1143.71 82.06L1150.31 89.66M1143.71 89.66L1150.31 82.06M1148.85 80.93L1155.45 88.53M1148.85 88.53L1155.45 80.93M1153.86 83.49L1160.46 91.09M1153.86 91.09L1160.46 83.49M1159.19 82.40L1165.79 90.00M1159.19 90.00L1165.79 82.40M1163.91 83.00L1170.51 90.60M1163.91 90.60L1170.51 83.00M1168.73 82.36L1175.33 89.96M1168.73 89.96L1175.33 82.36M1173.53 82.08L1180.13 89.68M1173.53 89.68L1180.13 82.08" stroke="#000" stroke-width="1.60" fill="none"/>
</g>
<g clip-path="url(#cb)"><g transform="matrix(1 0 0 1.0000 0 0.0000)">
<path d="M729.50 333.14 L729.64 332.02 L729.78 330.90 L729.92 329.79 L730.06 328.68 L730.20 327.58 L730.34 326.48 L730.48 325.38 L730.62 324.29 L730.76 323.21 L730.90 322.12 L731.04 321.05 L731.18 319.97 L731.32 318.90 L731.46 317.84 L731.60 316.78 L731.74 315.72 L731.88 314.67 L732.02 313.62 L732.16 312.58 L732.30 311.54 L732.44 310.50 L732.58 309.47 L732.72 308.44 L732.86 307.42 L733.00 306.40 L733.14 305.38 L733.28 304.37 L733.42 303.36 L733.56 302.36 L733.70 301.36 L733.84 300.36 L733.98 299.37 L734.14 298.24 L734.30 297.12 L734.46 296.00 L734.62 294.88 L734.78 293.77 L734.94 292.67 L735.10 291.57 L735.26 290.48 L735.42 289.39 L735.58 288.30 L735.74 287.22 L735.90 286.15 L736.06 285.08 L736.22 284.01 L736.38 282.95 L736.54 281.89 L736.70 280.84 L736.86 279.79 L737.02 278.75 L737.18 277.71 L737.34 276.68 L737.50 275.65 L737.66 274.62 L737.82 273.60 L737.98 272.59 L738.14 271.57 L738.30 270.57 L738.46 269.56 L738.62 268.56 L738.78 267.57 L738.94 266.58 L739.12 265.47 L739.30 264.36 L739.48 263.26 L739.66 262.17 L739.84 261.08 L740.02 260.00 L740.20 258.92 L740.38 257.85 L740.56 256.78 L740.74 255.71 L740.92 254.65 L741.10 253.60 L741.28 252.55 L741.46 251.51 L741.64 250.47 L741.82 249.43 L742.00 248.40 L742.18 247.37 L742.36 246.35 L742.54 245.33 L742.72 244.32 L742.90 243.31 L743.08 242.31 L743.26 241.31 L743.44 240.31 L743.62 239.32 L743.80 238.34 L744.00 237.25 L744.20 236.16 L744.40 235.08 L744.60 234.00 L744.80 232.93 L745.00 231.86 L745.20 230.80 L745.40 229.74 L745.60 228.69 L745.80 227.64 L746.00 226.60 L746.20 225.56 L746.40 224.53 L746.60 223.50 L746.80 222.47 L747.00 221.45 L747.20 220.43 L747.40 219.42 L747.60 218.41 L747.80 217.41 L748.00 216.41 L748.20 215.41 L748.40 214.42 L748.60 213.43 L748.80 212.44 L749.00 211.46 L749.22 210.39 L749.44 209.32 L749.66 208.25 L749.88 207.19 L750.10 206.13 L750.32 205.07 L750.54 204.02 L750.76 202.98 L750.98 201.94 L751.20 200.90 L751.42 199.86 L751.64 198.83 L751.86 197.80 L752.08 196.78 L752.30 195.76 L752.52 194.74 L752.74 193.73 L752.96 192.72 L753.18 191.71 L753.40 190.71 L753.62 189.70 L753.84 188.71 L754.06 187.71 L754.28 186.72 L754.50 185.74 L754.72 184.75 L754.94 183.77 L755.16 182.80 L755.40 181.73 L755.64 180.68 L755.88 179.62 L756.12 178.57 L756.36 177.53 L756.60 176.48 L756.84 175.45 L757.08 174.41 L757.32 173.38 L757.56 172.36 L757.80 171.34 L758.04 170.32 L758.28 169.31 L758.52 168.30 L758.76 167.29 L759.00 166.29 L759.24 165.29 L759.48 164.30 L759.72 163.31 L759.96 162.33 L760.20 161.35 L760.44 160.37 L760.68 159.40 L760.94 158.35 L761.20 157.30 L761.46 156.26 L761.72 155.23 L761.98 154.20 L762.24 153.18 L762.50 152.16 L762.76 151.14 L763.02 150.13 L763.28 149.12 L763.54 148.12 L763.80 147.13 L764.06 146.14 L764.32 145.15 L764.58 144.17 L764.84 143.19 L765.10 142.22 L765.36 141.25 L765.64 140.22 L765.92 139.19 L766.20 138.16 L766.48 137.14 L766.76 136.13 L767.04 135.12 L767.32 134.12 L767.60 133.12 L767.88 132.13 L768.16 131.15 L768.44 130.17 L768.72 129.19 L769.00 128.22 L769.28 127.26 L769.58 126.24 L769.88 125.22 L770.18 124.21 L770.48 123.20 L770.78 122.20 L771.08 121.21 L771.38 120.22 L771.68 119.24 L771.98 118.27 L772.28 117.31 L772.58 116.35 L772.90 115.33 L773.22 114.32 L773.54 113.32 L773.86 112.33 L774.18 111.34 L774.50 110.36 L774.82 109.39 L775.14 108.43 L775.46 107.47 L775.78 106.52 L776.12 105.52 L776.46 104.53 L776.80 103.55 L777.14 102.57 L777.48 101.61 L777.82 100.65 L778.16 99.70 L778.52 98.71 L778.88 97.72 L779.24 96.74 L779.60 95.78 L779.96 94.82 L780.32 93.87 L780.68 92.94 L781.06 91.96 L781.44 90.99 L781.82 90.03 L782.20 89.09 L782.58 88.15 L782.96 87.22 L783.36 86.26 L783.76 85.31 L784.16 84.37 L784.56 83.45 L784.98 82.49 L785.40 81.54 L785.82 80.61 L786.24 79.69 L786.68 78.74 L787.12 77.80 L787.56 76.88 L788.00 75.98 L788.46 75.04 L788.92 74.13 L789.38 73.22 L789.86 72.30 L790.34 71.39 L790.82 70.50 L791.32 69.59 L791.82 68.69 L792.32 67.81 L792.84 66.92 L793.36 66.04 L793.88 65.19 L794.42 64.32 L794.96 63.47 L795.52 62.61 L796.08 61.77 L796.66 60.92 L797.24 60.09 L797.84 59.26 L798.44 58.45 L799.06 57.64 L799.68 56.85 L800.32 56.06 L800.98 55.27 L801.64 54.51 L802.32 53.76 L803.02 53.01 L803.72 52.29 L804.44 51.58 L805.18 50.89 L805.94 50.20 L806.70 49.55 L807.48 48.92 L808.28 48.31 L809.10 47.71 L809.94 47.14 L810.80 46.60 L811.68 46.08 L812.56 45.60 L813.46 45.15 L814.38 44.74 L815.32 44.36 L816.28 44.01 L817.24 43.71 L818.22 43.45 L819.20 43.23 L820.20 43.05 L821.20 42.92 L822.20 42.82 L823.20 42.78 L824.20 42.77 L825.20 42.80 L826.20 42.87 L827.20 42.98 L828.20 43.13 L829.20 43.32 L830.18 43.53 L831.16 43.78 L832.14 44.07 L833.10 44.37 L834.06 44.71 L835.00 45.07 L835.94 45.46 L836.86 45.86 L837.78 46.29 L838.68 46.73 L839.58 47.20 L840.48 47.68 L841.36 48.18 L842.24 48.69 L843.10 49.21 L843.96 49.75 L844.82 50.30 L845.66 50.86 L846.50 51.43 L847.32 52.01 L848.14 52.59 L848.96 53.19 L849.78 53.80 L850.58 54.40 L851.38 55.02 L852.18 55.65 L852.98 56.28 L853.76 56.91 L854.54 57.54 L855.32 58.18 L856.10 58.83 L856.88 59.49 L857.66 60.15 L858.44 60.81 L859.20 61.47 L859.96 62.13 L860.72 62.79 L861.48 63.45 L862.24 64.12 L863.00 64.79 L863.76 65.46 L864.52 66.13 L865.28 66.80 L866.04 67.48 L866.80 68.15 L867.56 68.83 L868.32 69.50 L869.08 70.17 L869.84 70.84 L870.60 71.51 L871.36 72.17 L872.12 72.83 L872.88 73.49 L873.64 74.14 L874.42 74.81 L875.20 75.47 L875.98 76.13 L876.76 76.77 L877.54 77.42 L878.32 78.05 L879.10 78.68 L879.90 79.31 L880.70 79.94 L881.50 80.56 L882.30 81.16 L883.12 81.77 L883.94 82.37 L884.76 82.96 L885.58 83.53 L886.42 84.10 L887.26 84.66 L888.10 85.21 L888.96 85.75 L889.82 86.28 L890.68 86.79 L891.56 87.31 L892.44 87.80 L893.32 88.29 L894.22 88.77 L895.12 89.23 L896.02 89.68 L896.92 90.12 L897.84 90.55 L898.76 90.97 L899.68 91.37 L900.62 91.77 L901.56 92.15 L902.50 92.52 L903.44 92.88 L904.38 93.22 L905.34 93.56 L906.30 93.88 L907.26 94.19 L908.22 94.49 L909.18 94.77 L910.16 95.05 L911.14 95.31 L912.12 95.56 L913.10 95.80 L914.08 96.03 L915.06 96.24 L916.04 96.44 L917.04 96.63 L918.04 96.81 L919.04 96.97 L920.04 97.12 L921.04 97.25 L922.04 97.37 L923.04 97.47 L924.04 97.56 L925.04 97.63 L926.04 97.69 L927.04 97.72 L928.04 97.75 L929.04 97.75 L930.04 97.74 L931.04 97.71 L932.04 97.66 L933.04 97.59 L934.04 97.51 L935.04 97.40 L936.04 97.28 L937.04 97.14 L938.04 96.98 L939.04 96.81 L940.04 96.62 L941.04 96.42 L942.02 96.21 L943.00 95.99 L943.98 95.75 L944.96 95.51 L945.94 95.26 L946.92 95.00 L947.90 94.73 L948.88 94.45 L949.86 94.17 L950.84 93.89 L951.80 93.61 L952.76 93.32 L953.72 93.03 L954.68 92.75 L955.64 92.46 L956.60 92.17 L957.56 91.88 L958.52 91.60 L959.48 91.32 L960.46 91.03 L961.44 90.76 L962.42 90.48 L963.40 90.22 L964.38 89.96 L965.36 89.70 L966.34 89.45 L967.32 89.20 L968.30 88.96 L969.28 88.72 L970.26 88.49 L971.24 88.26 L972.22 88.04 L973.20 87.82 L974.18 87.61 L975.16 87.40 L976.14 87.20 L977.14 87.00 L978.14 86.80 L979.14 86.61 L980.14 86.42 L981.14 86.23 L982.14 86.05 L983.14 85.88 L984.14 85.71 L985.14 85.54 L986.14 85.38 L987.14 85.22 L988.14 85.07 L989.14 84.92 L990.14 84.78 L991.14 84.64 L992.14 84.50 L993.14 84.37 L994.14 84.24 L995.14 84.11 L996.14 83.99 L997.14 83.88 L998.14 83.76 L999.14 83.65 L1000.14 83.55 L1001.14 83.45 L1002.14 83.35 L1003.14 83.25 L1004.14 83.16 L1005.14 83.07 L1006.14 82.99 L1007.14 82.91 L1008.14 82.83 L1009.14 82.75 L1010.14 82.68 L1011.14 82.61 L1012.14 82.55 L1013.14 82.48 L1014.14 82.43 L1015.14 82.37 L1016.14 82.31 L1017.14 82.26 L1018.14 82.22 L1019.14 82.17 L1020.14 82.13 L1021.14 82.09 L1022.14 82.05 L1023.14 82.01 L1024.14 81.98 L1025.14 81.95 L1026.14 81.92 L1027.14 81.90 L1028.14 81.88 L1029.14 81.86 L1030.14 81.84 L1031.14 81.82 L1032.14 81.81 L1033.14 81.79 L1034.14 81.78 L1035.14 81.78 L1036.14 81.77 L1037.14 81.76 L1038.14 81.76 L1039.14 81.76 L1040.14 81.76 L1041.14 81.76 L1042.14 81.77 L1043.14 81.77 L1044.14 81.78 L1045.14 81.79 L1046.14 81.80 L1047.14 81.81 L1048.14 81.82 L1049.14 81.84 L1050.14 81.85 L1051.14 81.87 L1052.14 81.89 L1053.14 81.90 L1054.14 81.92 L1055.14 81.94 L1056.14 81.97 L1057.14 81.99 L1058.14 82.01 L1059.14 82.04 L1060.14 82.06 L1061.14 82.09 L1062.14 82.12 L1063.14 82.15 L1064.14 82.18 L1065.14 82.21 L1066.14 82.24 L1067.14 82.27 L1068.14 82.30 L1069.14 82.33 L1070.14 82.37 L1071.14 82.40 L1072.14 82.44 L1073.14 82.47 L1074.14 82.51 L1075.14 82.55 L1076.14 82.59 L1077.14 82.62 L1078.14 82.66 L1079.14 82.70 L1080.14 82.74 L1081.14 82.78 L1082.14 82.82 L1083.14 82.86 L1084.14 82.91 L1085.14 82.95 L1086.14 82.99 L1087.14 83.03 L1088.14 83.07 L1089.14 83.12 L1090.14 83.16 L1091.14 83.20 L1092.14 83.25 L1093.14 83.29 L1094.14 83.33 L1095.14 83.38 L1096.14 83.42 L1097.14 83.47 L1098.14 83.51 L1099.14 83.55 L1100.14 83.60 L1101.14 83.64 L1102.14 83.69 L1103.14 83.73 L1104.14 83.77 L1105.14 83.82 L1106.14 83.86 L1107.14 83.91 L1108.14 83.95 L1109.14 83.99 L1110.14 84.03 L1111.14 84.08 L1112.14 84.12 L1113.14 84.16 L1114.14 84.20 L1115.14 84.24 L1116.14 84.28 L1117.14 84.32 L1118.14 84.36 L1119.14 84.40 L1120.14 84.44 L1121.14 84.48 L1122.14 84.52 L1123.14 84.55 L1124.14 84.59 L1125.14 84.63 L1126.14 84.66 L1127.14 84.70 L1128.14 84.73 L1129.14 84.76 L1130.14 84.80 L1131.14 84.83 L1132.14 84.86 L1133.14 84.89 L1134.14 84.92 L1135.14 84.95 L1136.14 84.97 L1137.14 85.00 L1138.14 85.03 L1139.14 85.05 L1140.14 85.08 L1141.14 85.10 L1142.14 85.12 L1143.14 85.14 L1144.14 85.16 L1145.14 85.18 L1146.14 85.20 L1147.14 85.21 L1148.14 85.23 L1149.14 85.24 L1150.14 85.25 L1151.14 85.27 L1152.14 85.28 L1153.14 85.28 L1154.14 85.29 L1155.14 85.30 L1156.14 85.30 L1157.14 85.31 L1158.14 85.31 L1159.14 85.31 L1160.14 85.31 L1161.14 85.31 L1162.14 85.30 L1163.14 85.30 L1164.14 85.29 L1165.14 85.28 L1166.14 85.27 L1167.14 85.26 L1168.14 85.25 L1169.14 85.23 L1170.14 85.21 L1171.14 85.19 L1172.14 85.17 L1173.14 85.15 L1174.14 85.13 L1175.14 85.10 L1176.14 85.08 L1177.14 85.05 L1178.14 85.01 L1179.14 84.98 L1180.14 84.95 L1181.14 84.91 L1181.50 84.90" stroke="#000" stroke-width="1.35" fill="none" stroke-linejoin="round"/>
<path d="M729.30 274.74 L729.98 274.02 L730.36 273.05 L730.66 272.03 L730.92 271.00 L731.16 269.94 L731.38 268.89 L731.58 267.88 L731.78 266.83 L731.98 265.74 L732.16 264.73 L732.34 263.71 L732.52 262.68 L732.70 261.65 L732.88 260.62 L733.06 259.59 L733.24 258.58 L733.42 257.59 L733.62 256.53 L733.82 255.50 L734.02 254.52 L734.24 253.49 L734.46 252.51 L734.70 251.49 L734.94 250.51 L735.20 249.48 L735.46 248.49 L735.72 247.52 L736.00 246.48 L736.28 245.45 L736.56 244.41 L736.82 243.43 L737.08 242.42 L737.34 241.39 L737.60 240.34 L737.84 239.36 L738.08 238.36 L738.32 237.35 L738.56 236.32 L738.80 235.29 L739.04 234.24 L739.28 233.19 L739.52 232.13 L739.74 231.15 L739.96 230.16 L740.18 229.18 L740.40 228.19 L740.62 227.20 L740.84 226.20 L741.06 225.21 L741.28 224.22 L741.50 223.23 L741.72 222.25 L741.94 221.27 L742.18 220.21 L742.42 219.16 L742.66 218.12 L742.90 217.10 L743.14 216.09 L743.38 215.09 L743.62 214.09 L743.86 213.11 L744.10 212.13 L744.36 211.09 L744.62 210.04 L744.88 209.01 L745.14 207.97 L745.40 206.94 L745.66 205.92 L745.92 204.89 L746.18 203.86 L746.44 202.83 L746.70 201.80 L746.96 200.76 L747.22 199.72 L747.48 198.67 L747.72 197.70 L747.96 196.72 L748.20 195.73 L748.44 194.73 L748.68 193.72 L748.92 192.70 L749.16 191.68 L749.40 190.66 L749.64 189.63 L749.88 188.61 L750.12 187.58 L750.36 186.56 L750.60 185.55 L750.84 184.54 L751.08 183.54 L751.32 182.55 L751.56 181.57 L751.82 180.52 L752.08 179.50 L752.34 178.48 L752.60 177.49 L752.86 176.50 L753.12 175.53 L753.40 174.50 L753.68 173.48 L753.96 172.48 L754.24 171.48 L754.52 170.49 L754.80 169.51 L755.08 168.54 L755.36 167.57 L755.64 166.60 L755.92 165.64 L756.20 164.68 L756.50 163.65 L756.78 162.69 L757.06 161.73 L757.34 160.77 L757.62 159.80 L757.90 158.83 L758.18 157.86 L758.46 156.89 L758.74 155.92 L759.02 154.95 L759.30 153.98 L759.58 153.00 L759.86 152.03 L760.14 151.06 L760.42 150.09 L760.70 149.12 L760.98 148.15 L761.26 147.18 L761.54 146.21 L761.82 145.25 L762.10 144.29 L762.38 143.32 L762.68 142.30 L762.98 141.27 L763.28 140.25 L763.58 139.24 L763.88 138.23 L764.18 137.22 L764.48 136.21 L764.78 135.22 L765.08 134.22 L765.38 133.23 L765.68 132.25 L765.98 131.28 L766.28 130.31 L766.58 129.34 L766.88 128.39 L767.20 127.38 L767.52 126.37 L767.84 125.38 L768.16 124.39 L768.48 123.42 L768.80 122.45 L769.12 121.50 L769.46 120.49 L769.80 119.50 L770.14 118.53 L770.48 117.56 L770.82 116.61 L771.18 115.62 L771.54 114.65 L771.90 113.69 L772.26 112.75 L772.64 111.77 L773.02 110.80 L773.40 109.86 L773.78 108.92 L774.18 107.95 L774.58 107.00 L774.98 106.05 L775.38 105.12 L775.78 104.20 L776.20 103.23 L776.62 102.28 L777.04 101.33 L777.46 100.39 L777.88 99.45 L778.30 98.52 L778.72 97.58 L779.14 96.65 L779.56 95.73 L779.98 94.80 L780.40 93.89 L780.82 92.98 L781.26 92.03 L781.70 91.09 L782.14 90.15 L782.58 89.23 L783.02 88.31 L783.46 87.41 L783.92 86.47 L784.38 85.55 L784.84 84.64 L785.30 83.74 L785.78 82.82 L786.26 81.91 L786.74 81.02 L787.24 80.12 L787.74 79.23 L788.24 78.36 L788.76 77.47 L789.28 76.61 L789.82 75.73 L790.36 74.87 L790.92 74.00 L791.48 73.15 L792.06 72.30 L792.64 71.47 L793.24 70.63 L793.84 69.82 L794.46 69.01 L795.08 68.22 L795.72 67.43 L796.38 66.65 L797.04 65.89 L797.72 65.14 L798.42 64.39 L799.12 63.68 L799.84 62.97 L800.58 62.28 L801.34 61.60 L802.12 60.94 L802.90 60.31 L803.70 59.70 L804.52 59.11 L805.36 58.54 L806.22 58.00 L807.10 57.48 L807.98 57.01 L808.88 56.56 L809.80 56.14 L810.74 55.75 L811.68 55.40 L812.64 55.08 L813.62 54.80 L814.60 54.55 L815.58 54.35 L816.58 54.18 L817.58 54.04 L818.58 53.95 L819.58 53.89 L820.58 53.86 L821.58 53.86 L822.58 53.90 L823.58 53.97 L824.58 54.06 L825.58 54.19 L826.58 54.34 L827.58 54.52 L828.56 54.72 L829.54 54.94 L830.52 55.19 L831.50 55.46 L832.46 55.75 L833.42 56.05 L834.38 56.38 L835.34 56.72 L836.28 57.08 L837.22 57.45 L838.16 57.84 L839.08 58.23 L840.00 58.64 L840.92 59.06 L841.84 59.50 L842.74 59.93 L843.64 60.38 L844.54 60.84 L845.44 61.31 L846.34 61.79 L847.22 62.26 L848.10 62.75 L848.98 63.24 L849.86 63.74 L850.74 64.24 L851.62 64.75 L852.50 65.27 L853.38 65.79 L854.24 66.30 L855.10 66.81 L855.96 67.33 L856.82 67.85 L857.68 68.37 L858.54 68.90 L859.40 69.42 L860.26 69.94 L861.12 70.47 L861.98 70.99 L862.84 71.51 L863.70 72.03 L864.56 72.55 L865.42 73.07 L866.28 73.58 L867.16 74.10 L868.04 74.62 L868.92 75.13 L869.80 75.63 L870.68 76.13 L871.56 76.62 L872.44 77.11 L873.32 77.59 L874.22 78.06 L875.12 78.54 L876.02 79.00 L876.92 79.45 L877.82 79.88 L878.74 80.32 L879.66 80.75 L880.58 81.16 L881.50 81.57 L882.42 81.96 L883.36 82.35 L884.30 82.73 L885.24 83.10 L886.18 83.46 L887.12 83.81 L888.08 84.16 L889.04 84.49 L890.00 84.81 L890.96 85.13 L891.92 85.43 L892.88 85.72 L893.84 86.01 L894.82 86.28 L895.80 86.55 L896.78 86.81 L897.76 87.06 L898.74 87.30 L899.72 87.53 L900.70 87.75 L901.68 87.96 L902.66 88.16 L903.66 88.35 L904.66 88.54 L905.66 88.72 L906.66 88.88 L907.66 89.04 L908.66 89.20 L909.66 89.34 L910.66 89.47 L911.66 89.60 L912.66 89.72 L913.66 89.83 L914.66 89.93 L915.66 90.03 L916.66 90.11 L917.66 90.20 L918.66 90.27 L919.66 90.34 L920.66 90.40 L921.66 90.45 L922.66 90.50 L923.66 90.54 L924.66 90.57 L925.66 90.60 L926.66 90.63 L927.66 90.64 L928.66 90.66 L929.66 90.66 L930.66 90.67 L931.66 90.66 L932.66 90.65 L933.66 90.64 L934.66 90.62 L935.66 90.60 L936.66 90.58 L937.66 90.55 L938.66 90.51 L939.66 90.48 L940.66 90.44 L941.66 90.39 L942.66 90.34 L943.66 90.29 L944.66 90.24 L945.66 90.18 L946.66 90.12 L947.66 90.06 L948.66 90.00 L949.66 89.93 L950.66 89.86 L951.66 89.79 L952.66 89.72 L953.66 89.65 L954.66 89.57 L955.66 89.49 L956.66 89.41 L957.66 89.33 L958.66 89.25 L959.66 89.16 L960.66 89.07 L961.66 88.99 L962.66 88.90 L963.66 88.80 L964.66 88.71 L965.66 88.62 L966.66 88.52 L967.66 88.43 L968.66 88.33 L969.66 88.23 L970.66 88.14 L971.66 88.04 L972.66 87.94 L973.66 87.84 L974.66 87.74 L975.66 87.63 L976.66 87.53 L977.66 87.43 L978.66 87.33 L979.66 87.22 L980.66 87.12 L981.66 87.02 L982.66 86.91 L983.66 86.81 L984.66 86.71 L985.66 86.61 L986.66 86.50 L987.66 86.40 L988.66 86.30 L989.66 86.20 L990.66 86.10 L991.66 86.00 L992.66 85.90 L993.66 85.80 L994.66 85.70 L995.66 85.60 L996.66 85.50 L997.66 85.41 L998.66 85.31 L999.66 85.22 L1000.66 85.13 L1001.66 85.04 L1002.66 84.95 L1003.66 84.86 L1004.66 84.78 L1005.66 84.69 L1006.66 84.61 L1007.66 84.53 L1008.66 84.45 L1009.66 84.37 L1010.66 84.29 L1011.66 84.22 L1012.66 84.14 L1013.66 84.07 L1014.66 84.01 L1015.66 83.94 L1016.66 83.88 L1017.66 83.82 L1018.66 83.76 L1019.66 83.70 L1020.66 83.65 L1021.66 83.60 L1022.66 83.55 L1023.66 83.50 L1024.66 83.46 L1025.66 83.42 L1026.66 83.38 L1027.66 83.34 L1028.66 83.31 L1029.66 83.28 L1030.66 83.25 L1031.66 83.22 L1032.66 83.20 L1033.66 83.17 L1034.66 83.15 L1035.66 83.13 L1036.66 83.12 L1037.66 83.10 L1038.66 83.09 L1039.66 83.08 L1040.66 83.07 L1041.66 83.07 L1042.66 83.06 L1043.66 83.06 L1044.66 83.06 L1045.66 83.06 L1046.66 83.06 L1047.66 83.06 L1048.66 83.07 L1049.66 83.08 L1050.66 83.09 L1051.66 83.10 L1052.66 83.11 L1053.66 83.12 L1054.66 83.14 L1055.66 83.15 L1056.66 83.17 L1057.66 83.19 L1058.66 83.21 L1059.66 83.23 L1060.66 83.25 L1061.66 83.28 L1062.66 83.30 L1063.66 83.33 L1064.66 83.36 L1065.66 83.38 L1066.66 83.41 L1067.66 83.44 L1068.66 83.47 L1069.66 83.51 L1070.66 83.54 L1071.66 83.57 L1072.66 83.61 L1073.66 83.65 L1074.66 83.68 L1075.66 83.72 L1076.66 83.76 L1077.66 83.80 L1078.66 83.83 L1079.66 83.87 L1080.66 83.91 L1081.66 83.96 L1082.66 84.00 L1083.66 84.04 L1084.66 84.08 L1085.66 84.12 L1086.66 84.17 L1087.66 84.21 L1088.66 84.25 L1089.66 84.30 L1090.66 84.34 L1091.66 84.38 L1092.66 84.43 L1093.66 84.47 L1094.66 84.52 L1095.66 84.56 L1096.66 84.61 L1097.66 84.65 L1098.66 84.70 L1099.66 84.74 L1100.66 84.78 L1101.66 84.83 L1102.66 84.87 L1103.66 84.92 L1104.66 84.96 L1105.66 85.00 L1106.66 85.04 L1107.66 85.09 L1108.66 85.13 L1109.66 85.17 L1110.66 85.21 L1111.66 85.25 L1112.66 85.29 L1113.66 85.33 L1114.66 85.37 L1115.66 85.41 L1116.66 85.44 L1117.66 85.48 L1118.66 85.52 L1119.66 85.55 L1120.66 85.59 L1121.66 85.62 L1122.66 85.65 L1123.66 85.68 L1124.66 85.72 L1125.66 85.75 L1126.66 85.77 L1127.66 85.80 L1128.66 85.83 L1129.66 85.85 L1130.66 85.88 L1131.66 85.90 L1132.66 85.92 L1133.66 85.94 L1134.66 85.96 L1135.66 85.98 L1136.66 86.00 L1137.66 86.01 L1138.66 86.03 L1139.66 86.04 L1140.66 86.05 L1141.66 86.06 L1142.66 86.07 L1143.66 86.07 L1144.66 86.08 L1145.66 86.08 L1146.66 86.08 L1147.66 86.08 L1148.66 86.08 L1149.66 86.07 L1150.66 86.07 L1151.66 86.06 L1152.66 86.05 L1153.66 86.04 L1154.66 86.02 L1155.66 86.01 L1156.66 85.99 L1157.66 85.97 L1158.66 85.95 L1159.66 85.92 L1160.66 85.90 L1161.66 85.87 L1162.66 85.84 L1163.66 85.80 L1164.66 85.77 L1165.66 85.73 L1166.66 85.69 L1167.66 85.65 L1168.66 85.60 L1169.66 85.55 L1170.66 85.50 L1171.66 85.45 L1172.66 85.40 L1173.66 85.34 L1174.66 85.28 L1175.66 85.21 L1176.66 85.15 L1177.66 85.08 L1178.66 85.01 L1179.66 84.93 L1180.66 84.86 L1181.50 84.79" stroke="#ff0000" stroke-width="1.45" fill="none" stroke-dasharray="11.5 7.8"/>
</g></g>
<path d="M729.90 13.56H1180.50V369.75H729.90Z" stroke="#808080" stroke-width="1.1" fill="none"/>
<g style="will-change:transform">
<text x="0" y="0" transform="translate(115.50 23.10) scale(0.975 1)" text-anchor="end" style="">0.005</text>
<text x="0" y="0" transform="translate(717.70 23.10) scale(0.975 1)" text-anchor="end" style="">0.005</text>
<text x="0" y="0" transform="translate(115.50 94.40) scale(0.975 1)" text-anchor="end" style="">0</text>
<text x="0" y="0" transform="translate(717.70 94.40) scale(0.975 1)" text-anchor="end" style="">0</text>
<text x="0" y="0" transform="translate(115.50 165.70) scale(0.975 1)" text-anchor="end" style="">0.005</text>
<text x="0" y="0" transform="translate(717.70 165.70) scale(0.975 1)" text-anchor="end" style="">0.005</text>
<text x="0" y="0" transform="translate(115.50 237.00) scale(0.975 1)" text-anchor="end" style="">0.010</text>
<text x="0" y="0" transform="translate(717.70 237.00) scale(0.975 1)" text-anchor="end" style="">0.010</text>
<text x="0" y="0" transform="translate(115.50 308.30) scale(0.975 1)" text-anchor="end" style="">0.015</text>
<text x="0" y="0" transform="translate(717.70 308.30) scale(0.975 1)" text-anchor="end" style="">0.015</text>
<path d="M41.70 158.40H56.90M643.90 158.40H659.50M41.70 229.70H56.90M643.90 229.70H659.50M41.70 301.00H56.90M643.90 301.00H659.50" stroke="#000" stroke-width="1.25" fill="none"/>
<text x="0" y="0" transform="translate(171.90 400.20) scale(0.975 1)" text-anchor="middle" style="">2</text>
<text x="0" y="0" transform="translate(271.14 400.20) scale(0.975 1)" text-anchor="middle" style="">4</text>
<text x="0" y="0" transform="translate(373.38 400.20) scale(0.975 1)" text-anchor="middle" style="">6</text>
<text x="0" y="0" transform="translate(473.22 400.20) scale(0.975 1)" text-anchor="middle" style="">8</text>
<text x="0" y="0" transform="translate(573.46 400.20) scale(0.975 1)" text-anchor="middle" style="">10</text>
<text x="0" y="0" transform="translate(793.57 400.20) scale(0.975 1)" text-anchor="middle" style="">2</text>
<text x="0" y="0" transform="translate(923.61 400.20) scale(0.975 1)" text-anchor="middle" style="">4</text>
<text x="0" y="0" transform="translate(1055.45 400.20) scale(0.975 1)" text-anchor="middle" style="">6</text>
<text x="0" y="0" transform="translate(1181.29 400.20) scale(0.975 1)" text-anchor="middle" style="">8</text>
<text x="0" y="0" transform="translate(346.60 432.30) scale(1.000 1)" text-anchor="middle" style="font-style:italic;font-size:30.0px;">r</text>
<text x="0" y="0" transform="translate(951.30 432.30) scale(1.000 1)" text-anchor="middle" style="font-style:italic;font-size:30.0px;">r</text>
<text x="0" y="0" transform="translate(15.20 199.60) scale(1.000 1)" text-anchor="middle" style="font-style:italic;font-size:30.0px;">p</text>
<text x="2.8" y="23.7" style="font-size:29.5px">(<tspan style="font-style:italic">a</tspan>)</text>
<text x="596.0" y="23.9" style="font-size:29.5px">(<tspan style="font-style:italic">b</tspan>)</text>
</g>
</svg>
</body></html>
